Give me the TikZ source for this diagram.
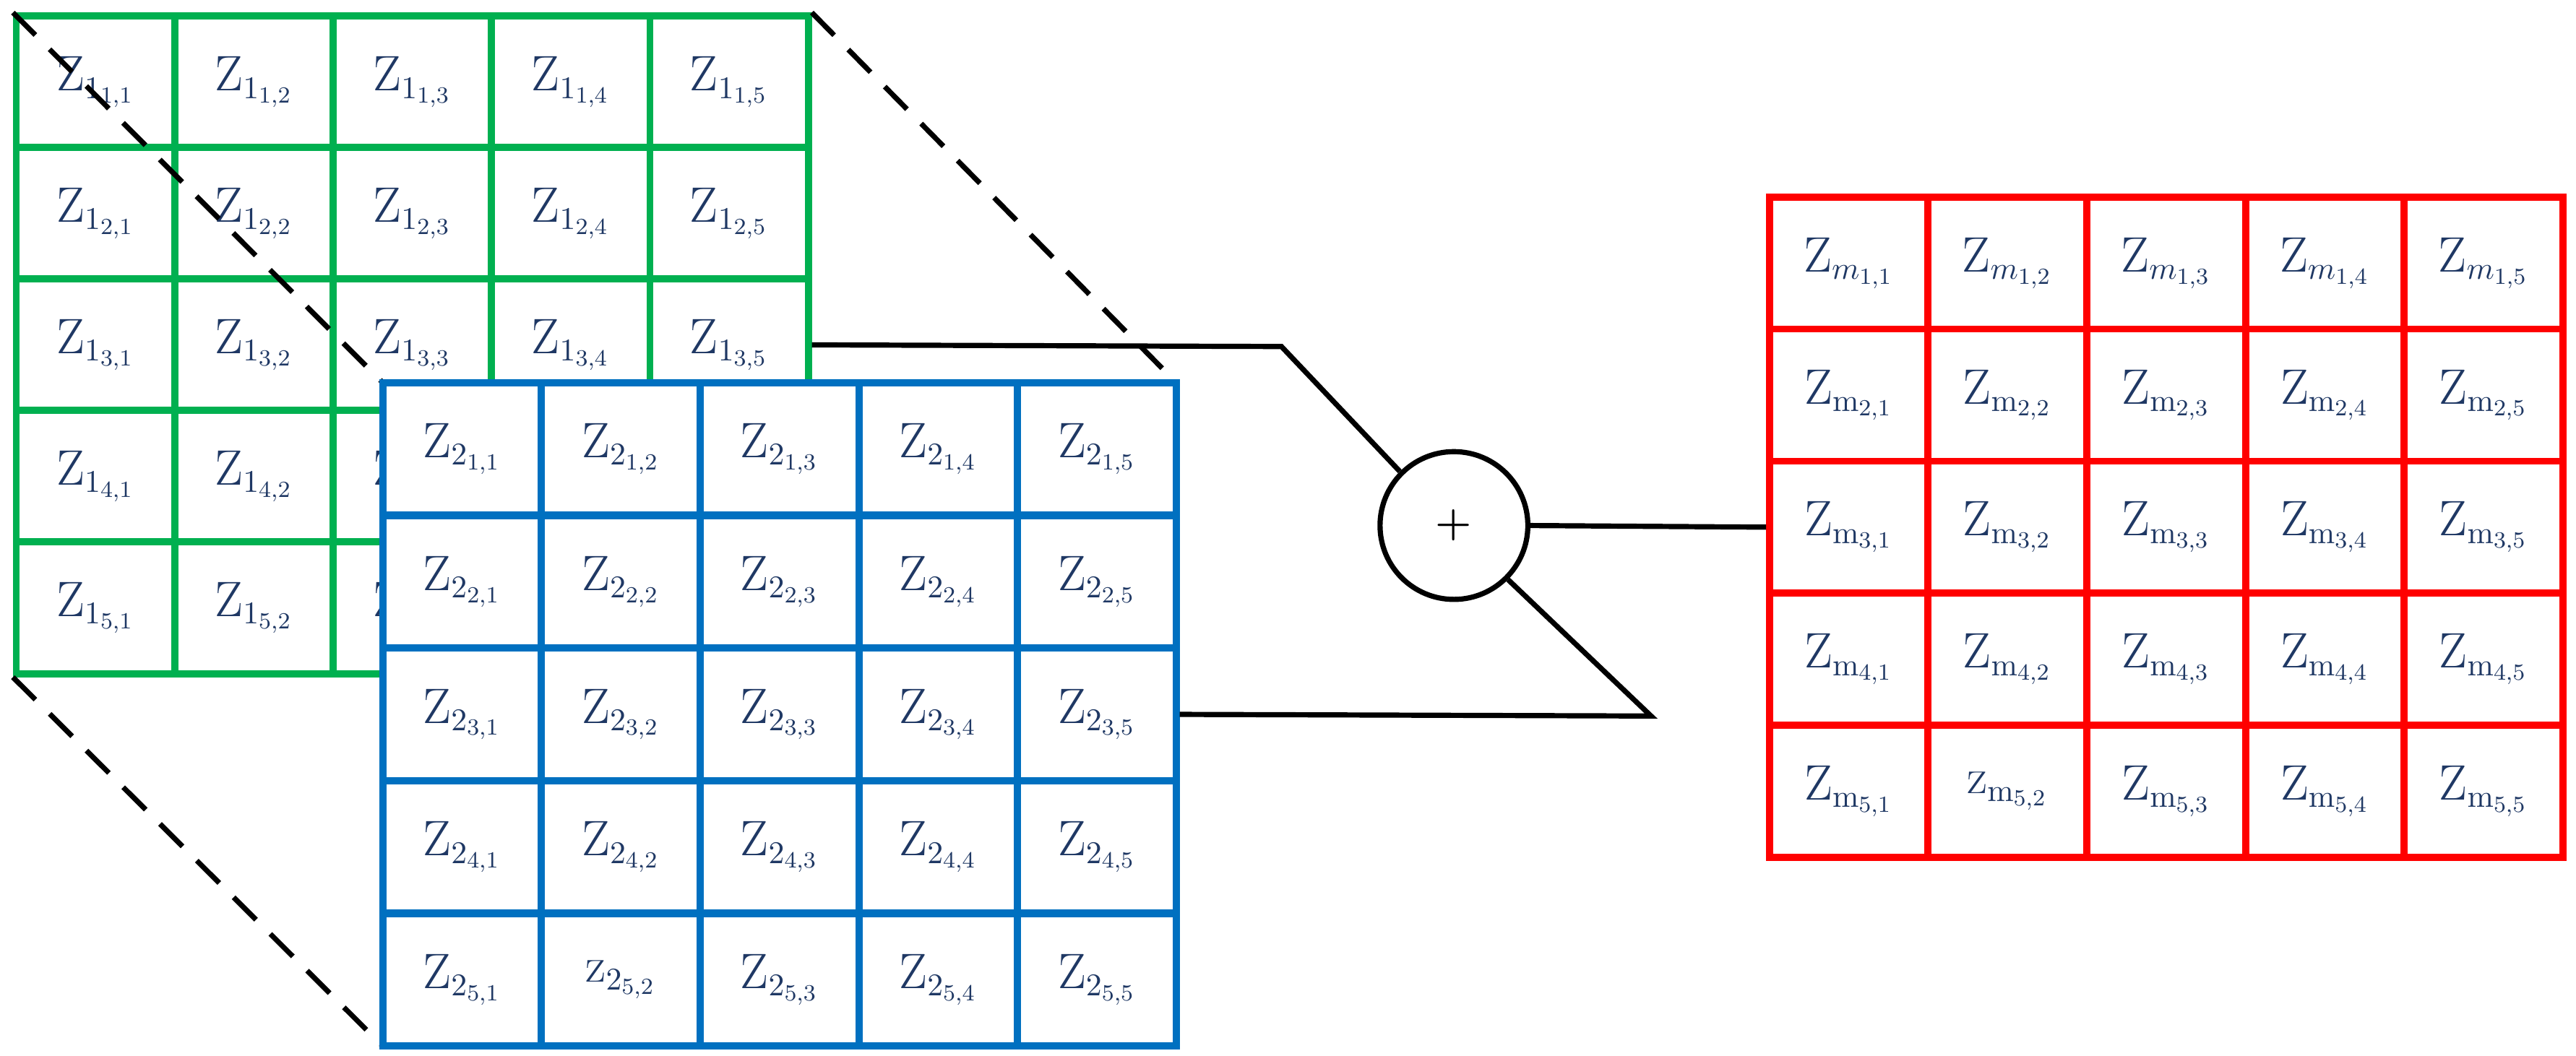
\documentclass[tikz,border=0pt]{standalone}
\usepackage{amsmath}
\usepackage{tikz}
\usetikzlibrary{positioning}
\definecolor{gridgreen}{HTML}{00B050}
\definecolor{gridblue}{HTML}{0070C0}
\definecolor{gridred}{HTML}{FF0000}
\definecolor{zink}{HTML}{1F3864}
\tikzset{
  cell/.style={draw, line width=2.4pt, fill=white, minimum width=1.93cm, minimum height=1.61cm, inner sep=0pt, text=zink, font=\fontsize{16}{18}\selectfont},
  wire/.style={line width=1.8pt},
  guide/.style={line width=1.8pt, dash pattern=on 11pt off 7pt},
}
\begin{document}
\begin{tikzpicture}[x=0.02cm, y=-0.02cm]
\useasboundingbox (0,0) rectangle (1568,643);

% first map
\foreach \i in {1,...,5}
  \foreach \j in {1,...,5}
    \node[cell, draw=gridgreen] (g-\i-\j) at ({10+96.4*(\j-0.5)}, {10+80*(\i-0.5)}) {$\mathrm{Z}_{1_{\i,\j}}$};

\draw[guide] (g-1-1.north west) -- (233,233);
\draw[guide] (g-1-5.north east) -- (716,233);
\draw[guide] (g-5-1.south west) -- (233,637);

% second map
\foreach \i in {1,...,5}
  \foreach \j in {1,...,5}{
    \ifnum\i\j=52 \def\zz{\mathrm{z}}\else\def\zz{\mathrm{Z}}\fi
    \node[cell, draw=gridblue] (b-\i-\j) at ({233+96.6*(\j-0.5)}, {233+80.8*(\i-0.5)}) {$\zz_{2_{\i,\j}}$};
  }

% result map
\foreach \i in {1,...,5}
  \foreach \j in {1,...,5}{
    \ifnum\i\j=52 \def\zz{\mathrm{z}}\else\def\zz{\mathrm{Z}}\fi
    \ifnum\i=1 \def\mm{m}\else\def\mm{\mathrm{m}}\fi
    \node[cell, draw=gridred] (r-\i-\j) at ({1077+96.6*(\j-0.5)}, {120+80.4*(\i-0.5)}) {$\zz_{\mm_{\i,\j}}$};
  }

% sum
\node[draw, circle, line width=1.8pt, minimum size=1.8cm, font=\Large\bfseries] (sum) at (885,320) {+};
\coordinate (k1) at (780,211);
\coordinate (k2) at (1005,436);
\draw[wire] (g-3-5.east) -- (k1) -- (sum.135);
\draw[wire] (b-3-5.east) -- (k2) -- (sum.-45);
\draw[wire] (sum.east) -- (r-3-1.west);
\end{tikzpicture}
\end{document}
